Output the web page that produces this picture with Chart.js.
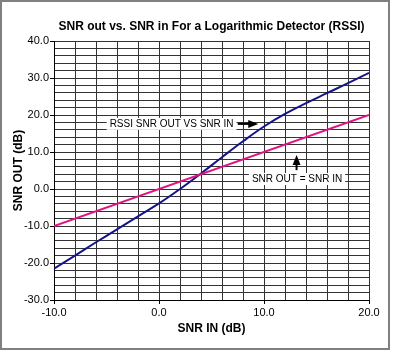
<!DOCTYPE html>
<html>
<head>
<meta charset="utf-8">
<script src="https://cdn.jsdelivr.net/npm/chart.js@4/dist/chart.umd.min.js"></script>
<style>
  html, body { margin: 0; padding: 0; background: #fff; }
  #wrap { width: 395px; height: 352px; position: relative; }
</style>
</head>
<body>
<div id="wrap"><canvas id="c" width="395" height="352"></canvas></div>
<script>
// ---- data ----
const snrIn = [-10, -8, -6, -4, -2, 0, 2, 4, 6, 8, 10, 12, 14, 16, 18, 20];
const rssiSnrOut = [-21.5, -18.0, -14.4, -10.9, -7.4, -3.9, 0.0, 4.2, 8.6, 12.9, 16.9, 20.3, 23.2, 25.9, 28.6, 31.4];
const identityIn = [-10, 20];
const identityOut = [-10, 20];
const xTicks = [-10, 0, 10, 20];
const yTicks = [-30, -20, -10, 0, 10, 20, 30, 40];

const titleText = 'SNR out vs. SNR in For a Logarithmic Detector (RSSI)';
const xTitle = 'SNR IN (dB)';
const yTitle = 'SNR OUT (dB)';
const label1 = 'RSSI SNR OUT VS SNR IN';
const label2 = 'SNR OUT = SNR IN';

const BLUE = '#141489';
const MAGENTA = '#df1482';

const rssiPts = snrIn.map((x, i) => ({x: x, y: rssiSnrOut[i]}));
const idPts = identityIn.map((x, i) => ({x: x, y: identityOut[i]}));

// annotation placement (in data units)
const notes = {
  l1: {x: -4.7, y: 17.6, arrowFrom: 7.5, arrowTo: 9.45},
  l2: {x: 8.85, y: 2.7, arrowX: 13.1, arrowFrom: 5.1, arrowTo: 9.2}
};

const frame = {
  id: 'frame',
  beforeDraw(chart) {
    const ctx = chart.ctx;
    ctx.save();
    ctx.fillStyle = '#fff';
    ctx.fillRect(0, 0, chart.width, chart.height);
    ctx.restore();
  },
  afterDraw(chart) {
    const ctx = chart.ctx;
    ctx.save();
    ctx.strokeStyle = '#808080';
    ctx.lineWidth = 2;
    ctx.strokeRect(1, 1, 388, 348);
    ctx.restore();
  }
};

const annot = {
  id: 'annot',
  afterDatasetsDraw(chart) {
    const ctx = chart.ctx;
    const xs = chart.scales.x, ys = chart.scales.y;
    ctx.save();
    ctx.font = '10px "Liberation Sans", Arial, sans-serif';
    ctx.textBaseline = 'middle';
    ctx.textAlign = 'left';
    // label 1
    let px = xs.getPixelForValue(notes.l1.x), py = ys.getPixelForValue(notes.l1.y);
    let w = ctx.measureText(label1).width;
    ctx.fillStyle = '#fff';
    ctx.fillRect(px - 3, py - 6, w + 6, 12);
    ctx.fillStyle = '#000';
    ctx.fillText(label1, px, py + 0.5);
    let a0 = xs.getPixelForValue(notes.l1.arrowFrom), a1 = xs.getPixelForValue(notes.l1.arrowTo);
    ctx.strokeStyle = '#000';
    ctx.lineWidth = 2;
    ctx.beginPath(); ctx.moveTo(a0, py); ctx.lineTo(a1 - 8, py); ctx.stroke();
    ctx.beginPath(); ctx.moveTo(a1, py); ctx.lineTo(a1 - 10, py - 4); ctx.lineTo(a1 - 10, py + 4); ctx.closePath(); ctx.fill();
    // label 2
    px = xs.getPixelForValue(notes.l2.x); py = ys.getPixelForValue(notes.l2.y);
    w = ctx.measureText(label2).width;
    ctx.fillStyle = '#fff';
    ctx.fillRect(px - 3, py - 6, w + 6, 12);
    ctx.fillStyle = '#000';
    ctx.fillText(label2, px, py + 0.5);
    const ax = xs.getPixelForValue(notes.l2.arrowX);
    const b0 = ys.getPixelForValue(notes.l2.arrowFrom), b1 = ys.getPixelForValue(notes.l2.arrowTo);
    ctx.beginPath(); ctx.moveTo(ax, b0); ctx.lineTo(ax, b1 + 8); ctx.stroke();
    ctx.beginPath(); ctx.moveTo(ax, b1); ctx.lineTo(ax - 4, b1 + 10); ctx.lineTo(ax + 4, b1 + 10); ctx.closePath(); ctx.fill();
    ctx.restore();
  }
};

const tickCol = (ctx) => (ctx.tick && (ctx.tick.value % 10 === 0)) ? '#000' : 'rgba(0,0,0,0)';
const fmt = (v) => (v % 10 === 0) ? Number(v).toFixed(1) : '';

new Chart(document.getElementById('c'), {
  type: 'line',
  data: {
    datasets: [
      { label: 'SNR OUT = SNR IN', data: idPts, borderColor: MAGENTA, borderWidth: 2, pointRadius: 0, tension: 0 },
      { label: 'RSSI SNR OUT VS SNR IN', data: rssiPts, borderColor: BLUE, borderWidth: 2, pointRadius: 0, tension: 0.4 }
    ]
  },
  options: {
    responsive: false,
    animation: false,
    devicePixelRatio: 1,
    layout: { padding: { left: 0, right: 26, top: 0, bottom: 0 } },
    plugins: {
      legend: { display: false },
      tooltip: { enabled: false },
      title: {
        display: true, text: titleText, fullSize: false, color: '#000',
        font: { family: '"Liberation Sans", Arial, sans-serif', size: 12, weight: 'bold' },
        padding: { top: 19, bottom: 7.6 }
      }
    },
    scales: {
      x: {
        type: 'linear', min: -10, max: 20,
        afterFit(s) { s.height = 52; },
        ticks: { stepSize: 2, autoSkip: false, maxRotation: 0, callback: fmt, color: '#000', padding: 2,
                 font: { family: '"Liberation Sans", Arial, sans-serif', size: 11 } },
        afterBuildTicks(s) { s.ticks = []; for (let v = -10; v <= 20; v += 2) s.ticks.push({value: v}); },
        grid: { color: '#333', lineWidth: 1, tickLength: 4, tickColor: tickCol },
        border: { display: true, color: '#000', width: 1 },
        title: { display: true, text: xTitle, color: '#000', padding: { top: 0, bottom: 16.5 },
                 font: { family: '"Liberation Sans", Arial, sans-serif', size: 12, weight: 'bold' } }
      },
      y: {
        type: 'linear', min: -30, max: 40,
        afterFit(s) { s.width = 54; },
        ticks: { stepSize: 2, autoSkip: false, callback: fmt, color: '#000', padding: 1,
                 font: { family: '"Liberation Sans", Arial, sans-serif', size: 11 } },
        afterBuildTicks(s) { s.ticks = []; for (let v = -30; v <= 40; v += 2) s.ticks.push({value: v}); },
        grid: { color: '#333', lineWidth: 1, tickLength: 4, tickColor: tickCol },
        border: { display: true, color: '#000', width: 1 },
        title: { display: true, text: yTitle, color: '#000', padding: { top: 11, bottom: 0 },
                 font: { family: '"Liberation Sans", Arial, sans-serif', size: 12, weight: 'bold' } }
      }
    }
  },
  plugins: [frame, annot]
});
</script>
</body>
</html>
